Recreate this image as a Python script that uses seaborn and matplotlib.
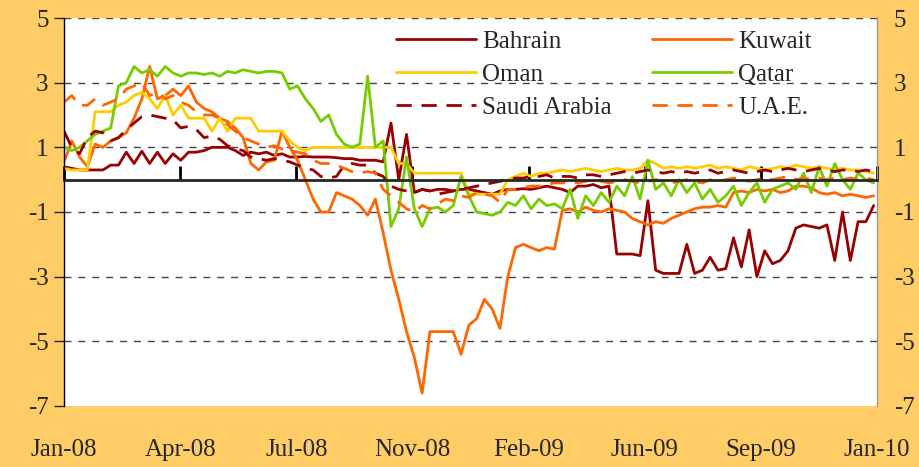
import pandas as pd
import numpy as np
import seaborn as sns
import matplotlib.pyplot as plt

# weekly readings, Jan-2008 .. Dec-2009
bahrain = [0.4, 0.35, 0.3, 0.3, 0.3, 0.3, 0.45, 0.45, 0.85, 0.5,
           0.88, 0.5, 0.85, 0.5, 0.8, 0.6, 0.85, 0.85, 0.9, 1.0,
           1.0, 1.0, 0.9, 0.75, 0.85, 0.8, 0.85, 0.75, 0.8, 0.7,
           0.7, 0.72, 0.7, 0.7, 0.7, 0.68, 0.65, 0.65, 0.6, 0.6,
           0.6, 0.55, 1.75, 0.0, 1.4, -0.4, -0.3, -0.35, -0.3, -0.3,
           -0.35, -0.3, -0.3, -0.35, -0.4, -0.45, -0.35, -0.3, -0.3, -0.28,
           -0.3, -0.25, -0.2, -0.25, -0.3, -0.4, -0.2, -0.2, -0.15, -0.25,
           -0.2, -2.3, -2.3, -2.3, -2.35, -0.65, -2.8, -2.9, -2.9, -2.9,
           -2.0, -2.9, -2.8, -2.4, -2.8, -2.75, -1.8, -2.7, -1.55, -3.0,
           -2.2, -2.6, -2.5, -2.2, -1.5, -1.4, -1.45, -1.5, -1.4, -2.5,
           -1.0, -2.5, -1.3, -1.3, -0.8]

kuwait = [0.55, 1.2, 0.7, 0.4, 1.1, 1.0, 1.2, 1.3, 1.45, 1.9,
          2.5, 3.5, 2.5, 2.6, 2.8, 2.6, 2.9, 2.4, 2.2, 2.1,
          1.9, 1.8, 1.6, 1.3, 0.5, 0.3, 0.55, 0.6, 1.5, 1.0,
          0.6, 0.0, -0.6, -1.0, -1.0, -0.4, -0.5, -0.6, -0.8, -1.1,
          -0.6, -1.65, -2.8, -3.7, -4.7, -5.5, -6.6, -4.7, -4.7, -4.7,
          -4.7, -5.4, -4.5, -4.3, -3.7, -4.0, -4.6, -3.0, -2.1, -2.0,
          -2.1, -2.2, -2.1, -2.15, -0.95, -0.9, -1.0, -0.85, -0.95, -1.0,
          -0.9, -0.95, -1.0, -1.2, -1.3, -1.4, -1.3, -1.35, -1.2, -1.1,
          -1.0, -0.9, -0.85, -0.85, -0.8, -0.85, -0.4, -0.35, -0.4, -0.3,
          -0.35, -0.3, -0.4, -0.35, -0.2, -0.2, -0.25, -0.4, -0.45, -0.4,
          -0.5, -0.45, -0.5, -0.55, -0.5]

oman = [0.35, 0.3, 0.3, 0.3, 2.1, 2.1, 2.1, 2.3, 2.4, 2.6,
        2.7, 2.5, 2.2, 2.6, 2.0, 2.3, 1.9, 1.9, 1.9, 1.5,
        1.9, 1.5, 1.9, 1.9, 1.9, 1.5, 1.5, 1.5, 1.5, 1.2,
        1.0, 0.9, 1.0, 1.0, 1.0, 1.0, 1.0, 1.0, 1.0, 1.0,
        1.0, 1.0, 1.0, 0.5, 0.5, 0.2, 0.2, 0.2, 0.2, 0.2,
        0.2, 0.2, -0.45, -0.45, -0.45, -0.45, -0.45, 0.0, 0.1, 0.2,
        0.1, 0.2, 0.2, 0.25, 0.3, 0.25, 0.3, 0.35, 0.3, 0.25,
        0.3, 0.35, 0.3, 0.3, 0.35, 0.6, 0.5, 0.35, 0.4, 0.35,
        0.4, 0.35, 0.4, 0.45, 0.35, 0.4, 0.35, 0.3, 0.4, 0.35,
        0.3, 0.35, 0.4, 0.35, 0.45, 0.4, 0.35, 0.4, 0.35, 0.3,
        0.35, 0.3, 0.3, 0.25, 0.2]

qatar = [1.0, 0.9, 1.0, 1.2, 1.4, 1.5, 1.6, 2.9, 3.0, 3.5,
         3.3, 3.4, 3.2, 3.5, 3.3, 3.2, 3.3, 3.3, 3.25, 3.3,
         3.2, 3.35, 3.3, 3.4, 3.35, 3.3, 3.35, 3.35, 3.3, 2.8,
         2.9, 2.5, 2.2, 1.8, 2.0, 1.4, 1.1, 1.0, 1.1, 3.2,
         1.0, 1.2, -1.45, -0.9, 0.7, -0.9, -1.45, -0.9, -0.85, -1.0,
         -0.8, 0.1, -0.5, -1.0, -1.05, -1.1, -1.0, -0.7, -0.8, -0.5,
         -0.9, -0.6, -0.8, -0.75, -0.9, -0.3, -1.2, -0.5, -0.8, -0.4,
         -0.7, -0.2, -0.5, 0.1, -0.6, 0.6, -0.3, -0.1, -0.5, 0.0,
         -0.4, -0.1, -0.6, -0.3, -0.7, -0.5, -0.2, -0.8, -0.4, -0.1,
         -0.7, -0.3, -0.2, -0.1, -0.3, 0.2, -0.4, 0.4, -0.2, 0.5,
         0.0, -0.3, 0.2, 0.0, -0.1]

saudi = [1.5, 1.0, 0.8, 1.3, 1.5, 1.45, 1.2, 1.3, 1.55, 1.75,
         1.95, 2.0, 1.95, 1.9, 1.85, 1.6, 1.65, 1.55, 1.3, 1.35,
         1.25, 1.05, 0.95, 0.9, 0.7, 0.65, 0.6, 0.65, 0.6, 0.55,
         0.45, 0.35, 0.3, 0.1, 0.05, 0.1, 0.45, 0.5, 0.45, 0.45,
         0.2, 0.1, -0.2, -0.3, -0.35, -0.4, -0.3, -0.35, -0.45, -0.4,
         -0.35, -0.3, -0.25, -0.2, -0.15, -0.1, -0.05, 0.0, 0.05, 0.05,
         0.1, 0.1, 0.15, 0.05, 0.1, 0.1, 0.05, 0.15, 0.15, 0.1,
         0.15, 0.2, 0.25, 0.2, 0.25, 0.3, 0.25, 0.2, 0.25, 0.2,
         0.25, 0.2, 0.25, 0.3, 0.2, 0.25, 0.3, 0.25, 0.2, 0.25,
         0.3, 0.25, 0.3, 0.35, 0.3, 0.25, 0.3, 0.35, 0.3, 0.25,
         0.3, 0.3, 0.25, 0.3, 0.25]

uae = [2.4, 2.6, 2.3, 2.3, 2.5, 2.3, 2.4, 2.5, 2.8, 2.9,
       3.0, 2.6, 2.7, 2.5, 2.6, 2.4, 2.3, 2.1, 2.0, 2.0,
       1.9, 1.7, 1.5, 1.3, 1.2, 1.1, 1.0, 1.05, 0.95, 0.9,
       0.85, 0.8, 0.6, 0.5, 0.5, 0.45, 0.35, 0.25, 0.2, 0.25,
       0.2, -0.3, -0.5, -0.7, -0.9, -1.0, -0.8, -0.9, -0.75, -0.6,
       -0.65, -0.5, -0.55, -0.4, -0.45, -0.5, -0.7, -0.3, -0.3, -0.25,
       -0.2, -0.2, -0.15, -0.1, -0.1, -0.05, -0.1, -0.05, 0.0, -0.05,
       -0.1, -0.05, 0.0, -0.05, -0.1, -0.05, 0.0, -0.05, -0.1, -0.05,
       0.0, -0.05, -0.1, 0.0, -0.05, 0.0, 0.05, 0.0, -0.05, 0.0,
       0.05, 0.0, 0.05, 0.1, 0.0, 0.05, 0.0, 0.05, 0.0, 0.05,
       0.0, 0.05, 0.0, 0.05, 0.0]

countries = ['Bahrain', 'Kuwait', 'Oman', 'Qatar', 'Saudi Arabia', 'U.A.E.']
tick_labels = ['Jan-08', 'Apr-08', 'Jul-08', 'Nov-08', 'Feb-09', 'Jun-09', 'Sep-09', 'Jan-10']
y_ticks = [-7, -5, -3, -1, 1, 3, 5]

colors = {'Bahrain': '#990000', 'Kuwait': '#FF6600', 'Oman': '#FFCC00',
          'Qatar': '#77CC00', 'Saudi Arabia': '#990000', 'U.A.E.': '#FF6600'}
dashes = {'Bahrain': '', 'Kuwait': '', 'Oman': '', 'Qatar': '',
          'Saudi Arabia': (5.5, 3.5), 'U.A.E.': (5.5, 3.5)}

dates = pd.date_range('2008-01-01', periods=len(bahrain), freq='7D')
wide = pd.DataFrame({'Bahrain': bahrain, 'Kuwait': kuwait, 'Oman': oman,
                     'Qatar': qatar, 'Saudi Arabia': saudi, 'U.A.E.': uae}, index=dates)
df = wide.reset_index().melt(id_vars='index', var_name='country', value_name='value')
df = df.rename(columns={'index': 'date'})

sns.set_style('white')
plt.rcParams['font.family'] = ['Liberation Serif', 'DejaVu Serif']

fig = plt.figure(figsize=(9.2, 4.67), dpi=100)
fig.patch.set_facecolor('#FFCC66')
ax = fig.add_axes([64 / 920, 61 / 467, 813 / 920, 388 / 467])
ax.set_facecolor('white')

sns.lineplot(data=df, x='date', y='value', hue='country', style='country',
             palette=colors, dashes=dashes, hue_order=countries, style_order=countries,
             linewidth=2, ax=ax, legend=True)

start, end = pd.Timestamp('2008-01-01'), pd.Timestamp('2010-01-01')
ax.set_xlim(start, end)
ax.set_ylim(-7, 5)
ax.set_xlabel('')
ax.set_ylabel('')

# zero line carries the date ticks
ax.spines['bottom'].set_position(('data', 0))
ax.spines['bottom'].set_linewidth(2)
ax.spines['top'].set_visible(False)
ax.spines['left'].set_color('black')
ax.spines['left'].set_linewidth(1)
ax.spines['right'].set_color('#999999')
ax.spines['right'].set_linewidth(1)

xt = pd.date_range(start, end, periods=len(tick_labels))
ax.set_xticks(xt)
ax.tick_params(axis='x', direction='in', length=10, width=2, color='black',
               labelbottom=False, bottom=True)
sec = ax.secondary_xaxis('bottom')
sec.set_xticks(xt)
sec.set_xticklabels(tick_labels)
sec.spines['bottom'].set_visible(False)
sec.tick_params(axis='x', length=0, pad=24, labelsize=18)

ax.set_yticks(y_ticks)
ax.set_yticklabels([str(t) for t in y_ticks])
ax.tick_params(axis='y', direction='out', length=7, width=1, left=True,
               labelsize=18, pad=4, right=False, labelright=False)

# right-hand labels
sec_y = ax.secondary_yaxis('right')
sec_y.set_yticks(y_ticks)
sec_y.set_yticklabels([str(t) for t in y_ticks])
sec_y.spines['right'].set_visible(False)
sec_y.tick_params(axis='y', length=0, pad=12, labelsize=18)

ax.yaxis.grid(True, color='#444444', linestyle=(0, (5, 5)), linewidth=1)
ax.xaxis.grid(False)
ax.get_ygridlines()[0].set_visible(False)
ax.set_axisbelow(True)

handles, labels = ax.get_legend_handles_labels()
hmap = dict(zip(labels, handles))
order = ['Bahrain', 'Oman', 'Saudi Arabia', 'Kuwait', 'Qatar', 'U.A.E.']
ax.legend([hmap[k] for k in order], order, ncol=2, frameon=False,
          loc='upper left', bbox_to_anchor=(0.393, 1.0), fontsize=18,
          handlelength=3.2, handletextpad=0.25, columnspacing=1.6,
          labelspacing=0.42, borderaxespad=0.1)

fig.savefig('out.png', dpi=100, facecolor=fig.get_facecolor())
